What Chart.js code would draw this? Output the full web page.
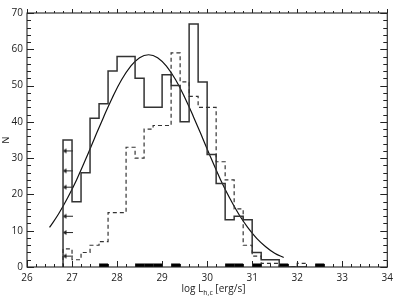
<!DOCTYPE html>
<html>
<head>
<meta charset="utf-8">
<script src="https://cdn.jsdelivr.net/npm/chart.js@4.4.1/dist/chart.umd.min.js"></script>
<style>
  html, body { margin: 0; padding: 0; background: #fff; }
  #wrap { width: 398px; height: 299px; }
</style>
</head>
<body>
<div id="wrap"><canvas id="myChart" width="398" height="299"></canvas></div>
<script>
// left edges of the 0.2 dex bins
const binStart = [26.8, 27.0, 27.2, 27.4, 27.6, 27.8, 28.0, 28.2, 28.4, 28.6, 28.8, 29.0, 29.2, 29.4,
                  29.6, 29.8, 30.0, 30.2, 30.4, 30.6, 30.8, 31.0, 31.2, 31.4, 31.6, 31.8, 32.0, 32.2];
// solid histogram
const solidN  = [35, 18, 26, 41, 45, 54, 58, 58, 52, 44, 44, 53, 50, 40,
                 67, 51, 31, 23, 13, 14, 13, 4, 2, 2, 0, 0, 0, 0];
// dashed histogram
const dashedN = [5, 2, 4, 6, 7, 15, 15, 33, 30, 38, 39, 39, 59, 51,
                 47, 44, 44, 29, 24, 16, 6, 3, 1, 1, 0, 0, 1, 0];

// fitted curve
const fitX = [26.5, 26.7, 26.9, 27.1, 27.3, 27.5, 27.7, 27.9, 28.1, 28.3, 28.5, 28.7, 28.9, 29.1,
              29.3, 29.5, 29.7, 29.9, 30.1, 30.3, 30.5, 30.7, 30.9, 31.1, 31.3, 31.5, 31.7];
const fitN = [10.9, 14.6, 19.0, 24.0, 29.6, 35.5, 41.3, 46.8, 51.6, 55.3, 57.7, 58.5, 57.7, 55.3,
              51.6, 46.8, 41.3, 35.5, 29.6, 24.0, 19.0, 14.6, 10.9, 7.9, 5.6, 3.8, 2.6];

// upper limits (arrows) in the first bin
const limitX = 26.9;
const limitN = [32, 26.5, 22, 14, 9.5, 3];

// black marks along the x axis
const markFrom = [27.6, 28.4, 29.2, 30.4, 31.0, 31.6, 32.4];
const markTo   = [27.8, 29.0, 29.4, 30.8, 31.2, 31.8, 32.6];

const xTicks = [26, 27, 28, 29, 30, 31, 32, 33, 34];
const yTicks = [0, 10, 20, 30, 40, 50, 60, 70];

const ink = '#222';
const fontFam = "'Open Sans', 'Noto Sans', sans-serif";

// step data: start at the baseline, then one point per bin edge
const stepData = vals => [{x: binStart[0], y: 0}].concat(binStart.map((x, i) => ({x: x, y: vals[i]})));

const markData = [];
markFrom.forEach((a, i) => {
  markData.push({x: a, y: 0.5}, {x: markTo[i], y: 0.5}, {x: markTo[i], y: null});
});

// small left arrow used as point style
const arrow = document.createElement('canvas');
arrow.width = 10; arrow.height = 7;
(() => {
  const c = arrow.getContext('2d');
  c.strokeStyle = ink; c.fillStyle = ink; c.lineWidth = 1;
  c.beginPath(); c.moveTo(2, 3.5); c.lineTo(10, 3.5); c.stroke();
  c.beginPath(); c.moveTo(0, 3.5); c.lineTo(4, 1); c.lineTo(4, 6); c.closePath(); c.fill();
})();

// box, ticks on all four sides and the axis titles
const frame = {
  id: 'frame',
  afterDatasetsDraw(chart) {
    const {ctx, chartArea: a, scales: {x, y}} = chart;
    ctx.save();
    ctx.strokeStyle = ink;
    ctx.lineWidth = 1.1;
    ctx.strokeRect(a.left, a.top, a.right - a.left, a.bottom - a.top);
    ctx.lineWidth = 1;
    ctx.beginPath();
    for (let v = 26; v <= 34.001; v += 0.2) {
      const major = Math.abs(v - Math.round(v)) < 0.01;
      const px = Math.round(x.getPixelForValue(v)) + 0.5;
      ctx.moveTo(px, a.bottom); ctx.lineTo(px, a.bottom - (major ? 6 : 3));
      ctx.moveTo(px, a.top); ctx.lineTo(px, a.top - (major ? 4 : 2));
    }
    for (let v = 0; v <= 70; v += 2) {
      const major = v % 10 === 0;
      const py = Math.round(y.getPixelForValue(v)) + 0.5;
      ctx.moveTo(a.left, py); ctx.lineTo(a.left + (major ? 7 : 4), py);
      ctx.moveTo(a.right, py); ctx.lineTo(a.right - (major ? 7 : 4), py);
    }
    ctx.stroke();

    // x title with subscript
    ctx.fillStyle = ink;
    ctx.textBaseline = 'alphabetic';
    const f1 = '10px ' + fontFam, f2 = '7px ' + fontFam;
    ctx.font = f1; const w1 = ctx.measureText('log L').width;
    ctx.font = f2; const w2 = ctx.measureText('h,c').width;
    ctx.font = f1; const w3 = ctx.measureText(' [erg/s]').width;
    let tx = 213.5 - (w1 + w2 + w3) / 2;
    ctx.font = f1; ctx.fillText('log L', tx, 292); tx += w1;
    ctx.font = f2; ctx.fillText('h,c', tx, 295); tx += w2;
    ctx.font = f1; ctx.fillText(' [erg/s]', tx, 292);

    // y title
    ctx.save();
    ctx.translate(6, (a.top + a.bottom) / 2);
    ctx.rotate(-Math.PI / 2);
    ctx.font = '9px ' + fontFam;
    ctx.textAlign = 'center';
    ctx.textBaseline = 'middle';
    ctx.fillText('N', 0, 0);
    ctx.restore();
    ctx.restore();
  }
};

const ctx = document.getElementById('myChart');
new Chart(ctx, {
  type: 'line',
  data: {
    datasets: [
      {
        label: 'solid',
        data: stepData(solidN),
        stepped: true,
        borderColor: '#333',
        borderWidth: 1.5,
        pointRadius: 0,
        fill: false
      },
      {
        label: 'dashed',
        data: stepData(dashedN),
        stepped: true,
        borderColor: '#333',
        borderWidth: 1.2,
        borderDash: [4, 3],
        pointRadius: 0,
        fill: false
      },
      {
        label: 'fit',
        data: fitX.map((x, i) => ({x: x, y: fitN[i]})),
        borderColor: '#111',
        borderWidth: 1.2,
        tension: 0.4,
        pointRadius: 0,
        fill: false
      },
      {
        label: 'limits',
        type: 'scatter',
        data: limitN.map(n => ({x: limitX, y: n})),
        pointStyle: arrow,
        pointRadius: 5
      },
      {
        label: 'marks',
        data: markData,
        borderColor: '#000',
        borderWidth: 3.6,
        borderCapStyle: 'butt',
        spanGaps: false,
        pointRadius: 0,
        fill: false
      }
    ]
  },
  options: {
    responsive: false,
    animation: false,
    events: [],
    layout: { padding: { top: 13, right: 7, left: 0, bottom: 0 } },
    plugins: {
      legend: { display: false },
      tooltip: { enabled: false }
    },
    scales: {
      x: {
        type: 'linear',
        min: 26,
        max: 34,
        afterFit: s => { s.height = 32; },
        afterBuildTicks: s => { s.ticks = xTicks.map(v => ({value: v})); },
        grid: { display: false, drawTicks: false },
        border: { display: false },
        ticks: { padding: 5, color: ink, font: { family: fontFam, size: 10 }, maxRotation: 0 }
      },
      y: {
        min: 0,
        max: 70,
        afterFit: s => { s.width = 27; },
        afterBuildTicks: s => { s.ticks = yTicks.map(v => ({value: v})); },
        grid: { display: false, drawTicks: false },
        border: { display: false },
        ticks: { padding: 4, color: ink, font: { family: fontFam, size: 10 } }
      }
    }
  },
  plugins: [frame]
});
</script>
</body>
</html>
